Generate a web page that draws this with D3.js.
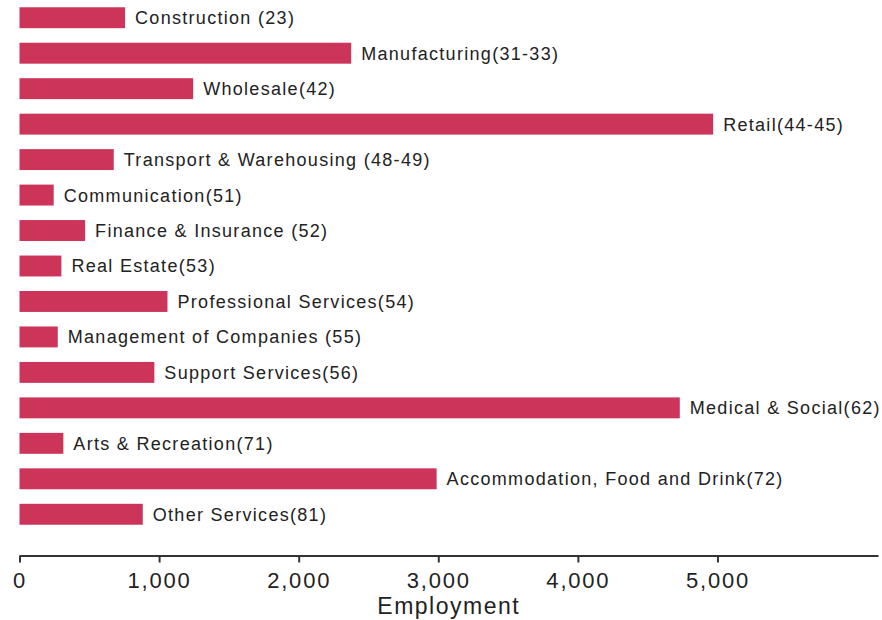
<!DOCTYPE html>
<html>
<head>
	<style>
		body {
			margin: 0;
			background-color: #fff;
		}
		#chart text {
			font-family: "Liberation Sans", Arial, sans-serif;
			fill: #222;
		}
	</style>
	<script src="https://d3js.org/d3.v7.min.js"></script>
</head>
<body>
	<div id="chart"></div>

	<script>
		var categories = ["Construction (23)", "Manufacturing(31-33)", "Wholesale(42)", "Retail(44-45)",
			"Transport & Warehousing (48-49)", "Communication(51)", "Finance & Insurance (52)",
			"Real Estate(53)", "Professional Services(54)", "Management of Companies (55)",
			"Support Services(56)", "Medical & Social(62)", "Arts & Recreation(71)",
			"Accommodation, Food and Drink(72)", "Other Services(81)"];
		var employment = [756, 2376, 1244, 4969, 675, 245, 470, 300, 1060, 274, 966, 4730, 314, 2988, 883];
		var tickValues = [0, 1000, 2000, 3000, 4000, 5000];

		var width = 882, height = 620;

		var svg = d3.select("#chart").append("svg")
			.attr("width", width)
			.attr("height", height);

		var x = d3.scaleLinear()
			.domain([0, 6150])
			.range([19.5, 878]);

		var y = d3.scaleBand()
			.domain(categories)
			.range([0, 532])
			.paddingInner(0.41)
			.paddingOuter(0.205);

		// bars
		svg.selectAll("rect.bar")
			.data(categories)
			.enter().append("rect")
			.attr("class", "bar")
			.attr("x", x(0))
			.attr("y", function(d) { return y(d); })
			.attr("width", function(d, i) { return x(employment[i]) - x(0); })
			.attr("height", y.bandwidth())
			.style("fill", "#cc3459");

		// labels next to each bar
		svg.selectAll("text.label")
			.data(categories)
			.enter().append("text")
			.attr("class", "label")
			.attr("x", function(d, i) { return x(employment[i]) + 10; })
			.attr("y", function(d) { return y(d) + y.bandwidth() / 2; })
			.attr("dy", "0.36em")
			.style("font-size", "18px")
			.style("letter-spacing", "1.3px")
			.text(function(d) { return d; });

		// x axis
		var axis = svg.append("g")
			.attr("transform", "translate(0,555.5)")
			.call(d3.axisBottom(x)
				.tickValues(tickValues)
				.tickSizeInner(7)
				.tickSizeOuter(0)
				.tickPadding(10)
				.tickFormat(d3.format(",")));

		axis.select(".domain")
			.attr("stroke", "#333")
			.attr("stroke-width", 2);
		axis.selectAll(".tick line")
			.attr("stroke", "#333")
			.attr("stroke-width", 2);
		axis.selectAll(".tick text")
			.style("font-size", "22px")
			.style("letter-spacing", "1.8px")
			.attr("fill", "#222");

		// axis title, sits right under the tick labels
		svg.append("text")
			.attr("x", (x.range()[0] + x.range()[1]) / 2)
			.attr("y", 614)
			.attr("text-anchor", "middle")
			.style("font-size", "23px")
			.style("letter-spacing", "1.5px")
			.text("Employment");
	</script>
</body>
</html>
